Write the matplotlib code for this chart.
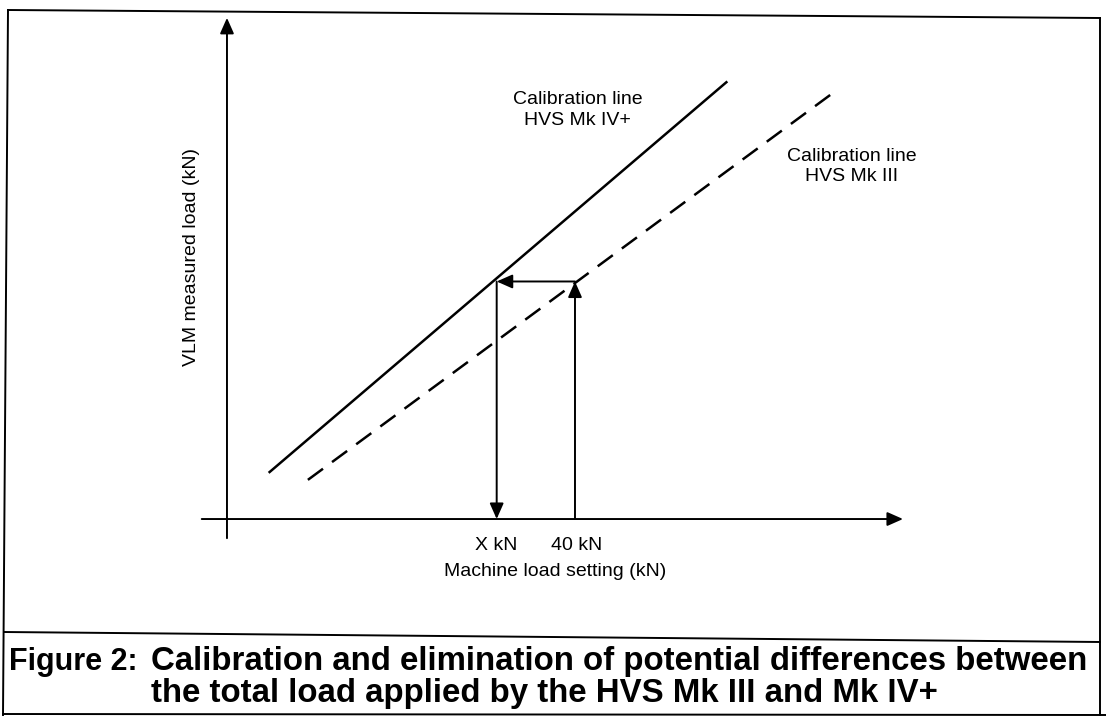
import matplotlib.pyplot as plt
from matplotlib.lines import Line2D

plt.rcParams['font.family'] = ['Liberation Sans', 'DejaVu Sans']

# schematic calibration lines (kN)
mk4_load = [4.9, 57.4]
mk4_vlm = [5.4, 50.2]
mk3_load = [9.3, 70.1]
mk3_vlm = [4.5, 49.3]
setting_load = 40
equiv_load = 31
vlm_level = 27.3
x_axis_range = [-2.9, 77.7]
y_axis_range = [-2.2, 57.6]
tick_labels = ['X kN', '40 kN']
line_labels = ['Calibration line\nHVS Mk IV+', 'Calibration line\nHVS Mk III']
caption = ['Figure 2:',
           'Calibration and elimination of potential differences between',
           'the total load applied by the HVS Mk III and Mk IV+']

W, H = 1106, 716
fig = plt.figure(figsize=(W/100, H/100), dpi=100)
ax = fig.add_axes([190/W, 166/H, 725/W, 540/H])
ax.set_xlim(-4.25, 79.08)
ax.set_ylim(-3.56, 58.5)
ax.axis('off')

arrow = dict(arrowstyle='-|>,head_length=0.95,head_width=0.42', color='black',
             lw=1.4, shrinkA=0, shrinkB=0, mutation_scale=10)

# axes
ax.annotate('', xy=(x_axis_range[1], 0), xytext=(x_axis_range[0], 0), arrowprops=arrow)
ax.annotate('', xy=(0, y_axis_range[1]), xytext=(0, y_axis_range[0]), arrowprops=arrow)

# calibration lines
ax.plot(mk4_load, mk4_vlm, color='black', lw=1.8)
ax.plot(mk3_load, mk3_vlm, color='black', lw=1.8, dashes=(7.5, 4.5))

# 40 kN -> Mk III line -> Mk IV+ line -> X kN
ax.annotate('', xy=(setting_load, vlm_level), xytext=(setting_load, 0), arrowprops=arrow)
ax.annotate('', xy=(equiv_load, vlm_level), xytext=(setting_load, vlm_level), arrowprops=arrow)
ax.annotate('', xy=(equiv_load, 0), xytext=(equiv_load, vlm_level), arrowprops=arrow)

ax.text(equiv_load, -3.0, tick_labels[0], ha='center', va='center', fontsize=14)
ax.text(setting_load + 0.2, -3.0, tick_labels[1], ha='center', va='center', fontsize=14)
ax.text(40.3, 47.0, line_labels[0], ha='center', va='center', fontsize=14, linespacing=1.25)
ax.text(71.8, 40.5, line_labels[1], ha='center', va='center', fontsize=14, linespacing=1.25)

fig.text(555/W, 1 - 572/H, 'Machine load setting (kN)', ha='center', va='center', fontsize=14)
fig.text(191/W, 1 - 257/H, 'VLM measured load (kN)', rotation=90, ha='center', va='center', fontsize=14)

# caption
fig.text(9/W, 1 - 670/H, caption[0], fontsize=22, fontweight='bold', va='baseline')
fig.text(151/W, 1 - 670/H, caption[1], fontsize=23.8, fontweight='bold', va='baseline')
fig.text(151/W, 1 - 702/H, caption[2], fontsize=23.8, fontweight='bold', va='baseline')


def frame_line(x0, y0, x1, y1):
    fig.add_artist(Line2D([x0/W, x1/W], [1 - y0/H, 1 - y1/H], color='black', lw=1.4))


# scanned frame
frame_line(8, 10, 1100, 18)
frame_line(8, 10, 3, 715)
frame_line(1100, 18, 1100, 716)
frame_line(3, 714, 1106, 715)
frame_line(4, 632, 1100, 642)

fig.savefig('out.png', dpi=100)
